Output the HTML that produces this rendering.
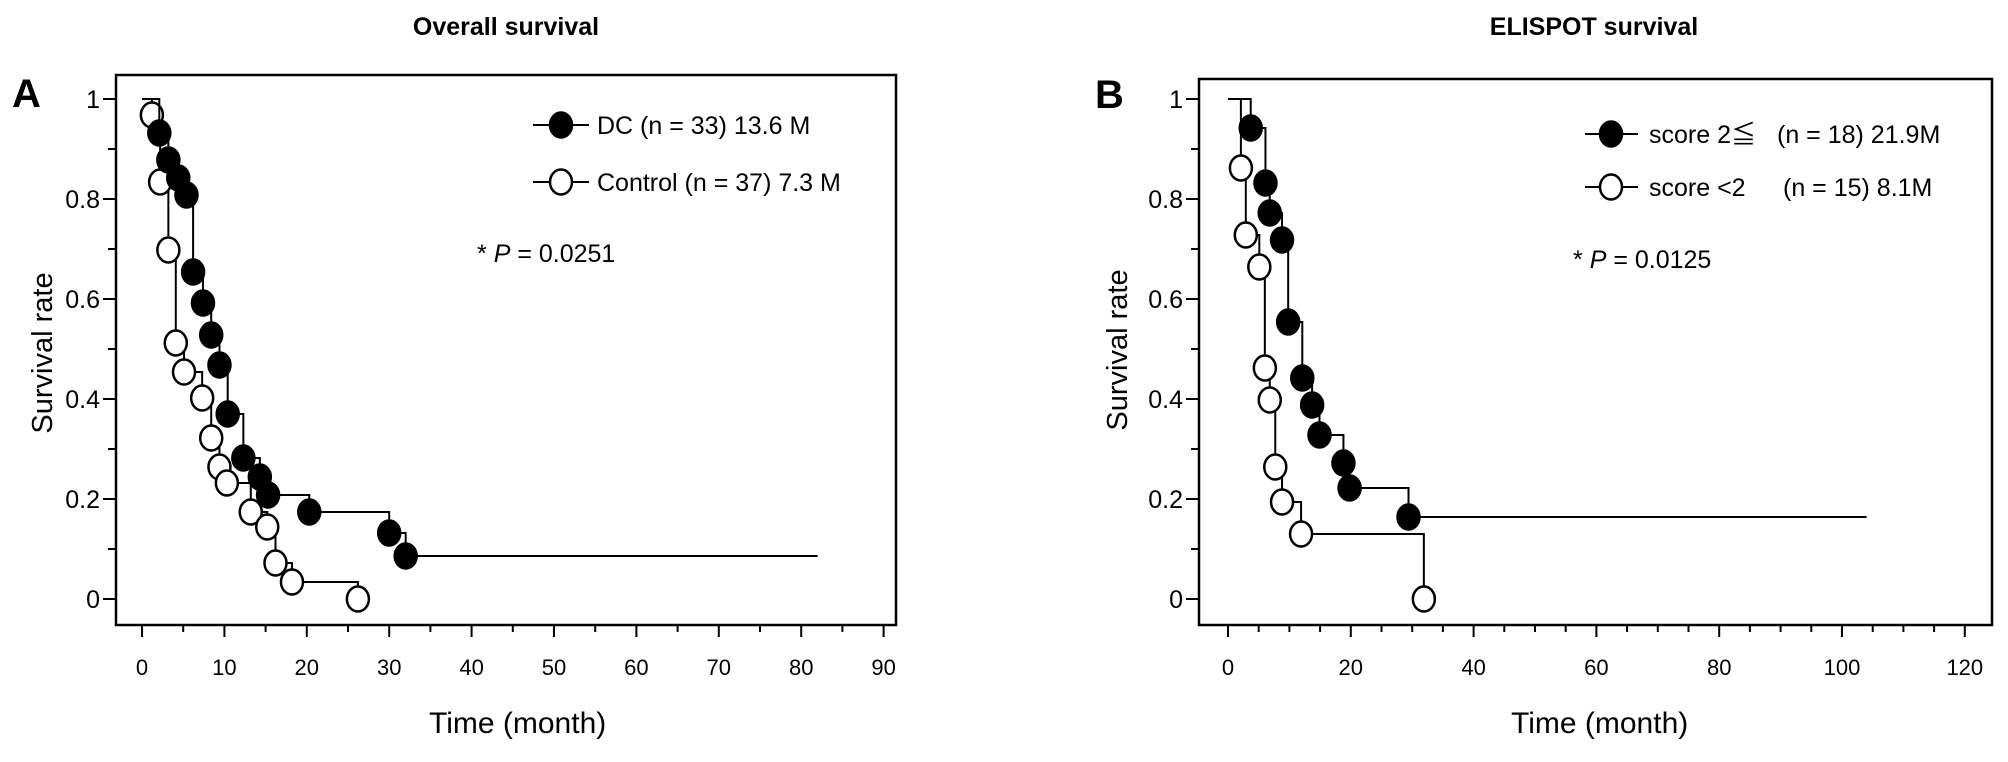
<!DOCTYPE html>
<html><head><meta charset="utf-8"><style>
body{margin:0;background:#fff}
svg{display:block;font-family:"Liberation Sans",Arial,sans-serif}
</style></head><body>
<svg id="chart" width="2008" height="762" viewBox="0 0 2008 762">
<rect width="2008" height="762" fill="#fff"/>
</svg>
<script>
// Panel A data
const aDcTimes=[2.1,3.2,4.4,5.4,6.2,7.4,8.4,9.4,10.4,12.3,14.3,15.3,20.3,30,32];
const aDcValues=[0.932,0.878,0.842,0.808,0.654,0.592,0.528,0.468,0.370,0.282,0.244,0.208,0.174,0.132,0.086];
const aCtrlTimes=[1.2,2.2,3.2,4.1,5.1,7.3,8.4,9.4,10.3,13.2,15.2,16.2,18.2,26.2];
const aCtrlValues=[0.968,0.834,0.698,0.512,0.454,0.402,0.322,0.264,0.232,0.174,0.144,0.072,0.034,0.0];
const aXTicks=[0,10,20,30,40,50,60,70,80,90];
// Panel B data
const bHighTimes=[3.7,6.1,6.8,8.8,9.8,12.1,13.7,14.9,18.8,19.8,29.4];
const bHighValues=[0.942,0.832,0.772,0.718,0.554,0.442,0.388,0.328,0.272,0.222,0.164];
const bLowTimes=[2.1,2.9,5.1,6.0,6.8,7.7,8.8,11.9,31.9];
const bLowValues=[0.862,0.728,0.664,0.462,0.398,0.264,0.194,0.130,0.0];
const bXTicks=[0,20,40,60,80,100,120];
const yTicks=[0,0.2,0.4,0.6,0.8,1];
const yTickLabels=["0","0.2","0.4","0.6","0.8","1"];

const NS="http://www.w3.org/2000/svg";
const svg=document.getElementById('chart');
function mk(tag,attrs,parent,text){const e=document.createElementNS(NS,tag);for(const k in attrs)e.setAttribute(k,attrs[k]);if(text!==undefined)e.textContent=text;(parent||svg).appendChild(e);return e;}
const yScale=v=>599-500*v;

function panel(o){
  const g=mk('g',{});
  
  
  const xScale=t=>o.x0+o.k*t;
  const fr=mk('rect',{x:o.left,y:o.top,width:o.right-o.left,height:625-o.top,fill:'none',stroke:'#000','stroke-width':2.5},g);
  
  
  for(let i=0;i<=10;i++){const v=i/10;const y=yScale(v);
    const t=mk('line',{x1:o.left-(i%2?8:13),x2:o.left,y1:y,y2:y,stroke:'#000','stroke-width':2},g);
    
    }
  yTicks.forEach((v,i)=>{const t=mk('text',{x:o.left-16,y:yScale(v)+9,'text-anchor':'end','font-size':25},g,yTickLabels[i]);
    
    });
  const step=o.xt[1]-o.xt[0];const mx=o.xt[o.xt.length-1];
  for(let t=0;t<=mx;t+=5){const x=xScale(t);const major=(t%step===0);
    const l=mk('line',{x1:x,x2:x,y1:625,y2:major?637:632,stroke:'#000','stroke-width':2},g);
    
    }
  o.xt.forEach(t=>{const e=mk('text',{x:xScale(t),y:675,'text-anchor':'middle','font-size':22},g,String(t));
    
    });
  o.series.forEach(s=>{
    let d='M'+xScale(0)+' '+yScale(1);
    s.t.forEach((t,i)=>{d+=' H'+xScale(t)+' V'+yScale(s.v[i]);});
    if(s.end!==undefined)d+=' H'+xScale(s.end);
    const p=mk('path',{d:d,fill:'none',stroke:'#000','stroke-width':2},g);
    
    
    s.t.forEach((t,i)=>{const m=mk('ellipse',{cx:xScale(t),cy:yScale(s.v[i]),rx:11,ry:12.5,fill:s.fill,stroke:'#000','stroke-width':2.5},g);
      
      });
  });
}
panel({name:'panel-a',left:116,top:75,right:896,x0:142,k:8.24,xt:aXTicks,series:[
 {name:'control',t:aCtrlTimes,v:aCtrlValues,fill:'#fff'},
 {name:'dc',t:aDcTimes,v:aDcValues,fill:'#000',end:82}]});
panel({name:'panel-b',left:1199,top:79,right:1992,x0:1228,k:6.14,xt:bXTicks,series:[
 {name:'score-low',t:bLowTimes,v:bLowValues,fill:'#fff'},
 {name:'score-high',t:bHighTimes,v:bHighValues,fill:'#000',end:104}]});
</script>
<svg width="2008" height="762" style="position:absolute;left:0;top:0" font-family="Liberation Sans, Arial, sans-serif">
<text x="506" y="35" text-anchor="middle" font-size="25" font-weight="bold">Overall survival</text>
<text x="1594" y="35" text-anchor="middle" font-size="25" font-weight="bold">ELISPOT survival</text>
<text x="12" y="107" font-size="40" font-weight="bold">A</text>
<text x="1095" y="108" font-size="40" font-weight="bold">B</text>
<text transform="translate(52,353) rotate(-90)" text-anchor="middle" font-size="29">Survival rate</text>
<text transform="translate(1127,350) rotate(-90)" text-anchor="middle" font-size="29">Survival rate</text>
<text x="429" y="733" font-size="30">Time (month)</text>
<text x="1511" y="733" font-size="30">Time (month)</text>
<g>
<line x1="533" x2="589" y1="125" y2="125" stroke="#000" stroke-width="2"/>
<ellipse cx="561" cy="125" rx="11" ry="12.5" fill="#000" stroke="#000" stroke-width="2.5"/>
<text x="597" y="134" font-size="25">DC (n = 33) 13.6 M</text>
<line x1="533" x2="589" y1="182" y2="182" stroke="#000" stroke-width="2"/>
<ellipse cx="561" cy="182" rx="11" ry="12.5" fill="#fff" stroke="#000" stroke-width="2.5"/>
<text x="597" y="191" font-size="25">Control (n = 37) 7.3 M</text>
</g>
<text x="477" y="262" font-size="25">* <tspan font-style="italic">P</tspan> = 0.0251</text>
<g>
<line x1="1585" x2="1638" y1="134" y2="134" stroke="#000" stroke-width="2"/>
<ellipse cx="1611" cy="134" rx="11" ry="12.5" fill="#000" stroke="#000" stroke-width="2.5"/>
<text x="1649" y="143" font-size="25" font-family="Liberation Sans, Noto Sans CJK JP, sans-serif">score 2≦</text>
<text x="1777" y="143" font-size="25">(n = 18) 21.9M</text>
<line x1="1585" x2="1638" y1="187" y2="187" stroke="#000" stroke-width="2"/>
<ellipse cx="1611" cy="187" rx="11" ry="12.5" fill="#fff" stroke="#000" stroke-width="2.5"/>
<text x="1649" y="196" font-size="25">score &lt;2</text>
<text x="1783" y="196" font-size="25">(n = 15) 8.1M</text>
</g>
<text x="1573" y="268" font-size="25">* <tspan font-style="italic">P</tspan> = 0.0125</text>
</svg>
</body></html>
